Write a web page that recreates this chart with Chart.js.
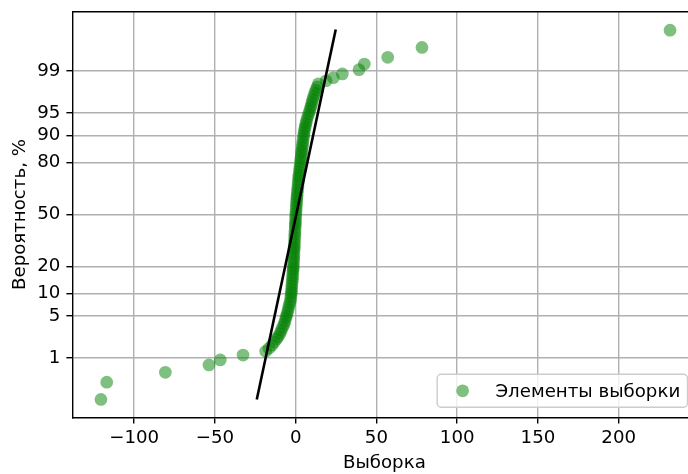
<!DOCTYPE html>
<html>
<head>
<meta charset="utf-8">
<script src="https://cdn.jsdelivr.net/npm/chart.js@4/dist/chart.umd.min.js"></script>
<style>
  html, body { margin: 0; padding: 0; background: #fff; overflow: hidden; width: 688px; height: 474px; }
  #wrap { width: 720px; height: 474px; }
</style>
</head>
<body>
<div id="wrap"><canvas id="probChart" width="720" height="474"></canvas></div>
<script>
// ordered sample values and their theoretical normal quantiles
const sample = [
  -120.6, -117.0, -80.7, -53.7, -46.7, -32.6, -18.6,
  -16.5, -14.7, -13.2, -11.8, -10.8, -9.7, -8.9, -8.1, -7.2, -6.6,
  -6.1, -5.6, -5.1, -4.6, -4.2, -3.7, -3.2, -3.0, -2.8, -2.6,
  -2.5, -2.4, -2.2, -2.0, -1.9, -1.8, -1.6, -1.5, -1.4, -1.3,
  -1.2, -1.1, -1.05, -0.93, -0.87, -0.74, -0.68, -0.62, -0.5, -0.43,
  -0.31, -0.25, -0.12, -0.06, 0.0, 0.12, 0.25, 0.37, 0.5, 0.62,
  0.74, 0.87, 1.05, 1.24, 1.42, 1.55, 1.73, 1.92, 2.11, 2.35,
  2.54, 2.79, 3.03, 3.22, 3.47, 3.65, 3.84, 4.09, 4.27, 4.52,
  4.77, 5.02, 5.26, 5.57, 6.01, 6.38, 6.81, 7.43, 8.05, 8.67,
  9.16, 9.66, 10.09, 10.59, 11.21, 11.83, 12.57, 13.31, 14.06,
  18.8, 23.3, 28.9, 39.2, 42.5, 57.0, 78.2, 231.8
];
const quantiles = [
  -3.00, -2.72, -2.56, -2.44, -2.36, -2.28, -2.22,
  -2.17, -2.12, -2.07, -2.02, -1.98, -1.93, -1.88, -1.83, -1.78, -1.73,
  -1.68, -1.64, -1.59, -1.54, -1.49, -1.44, -1.39, -1.34, -1.29, -1.25,
  -1.20, -1.15, -1.10, -1.05, -1.00, -0.95, -0.90, -0.86, -0.81, -0.76,
  -0.71, -0.66, -0.61, -0.56, -0.52, -0.47, -0.42, -0.37, -0.32, -0.27,
  -0.22, -0.17, -0.13, -0.08, -0.03, 0.02, 0.07, 0.12, 0.17, 0.22,
  0.27, 0.31, 0.36, 0.41, 0.46, 0.51, 0.56, 0.61, 0.65, 0.70,
  0.75, 0.80, 0.85, 0.90, 0.95, 1.00, 1.04, 1.09, 1.14, 1.19,
  1.24, 1.29, 1.34, 1.39, 1.43, 1.48, 1.53, 1.58, 1.63, 1.68,
  1.73, 1.77, 1.82, 1.87, 1.92, 1.97, 2.02, 2.07, 2.12,
  2.17, 2.22, 2.28, 2.35, 2.44, 2.55, 2.71, 2.99
];
// fitted line end points
const fitX = [-24.1, 24.8];
const fitQ = [-3.0, 3.0];

const yTickPercents = [1, 5, 10, 20, 50, 80, 90, 95, 99];
const xTicks = [-100, -50, 0, 50, 100, 150, 200];
const seriesLabel = 'Элементы выборки';

// inverse of the normal CDF (Acklam)
function probit(p) {
  const a = [-39.69683028665376, 220.9460984245205, -275.9285104469687, 138.3577518672690, -30.66479806614716, 2.506628277459239];
  const b = [-54.47609879822406, 161.5858368580409, -155.6989798598866, 66.80131188771972, -13.28068155288572];
  const c = [-0.007784894002430293, -0.3223964580411365, -2.400758277161838, -2.549732539343734, 4.374664141464968, 2.938163982698783];
  const d = [0.007784695709041462, 0.3224671290700398, 2.445134137142996, 3.754408661907416];
  const pl = 0.02425;
  let q, r;
  if (p < pl) {
    q = Math.sqrt(-2 * Math.log(p));
    return (((((c[0]*q+c[1])*q+c[2])*q+c[3])*q+c[4])*q+c[5]) / ((((d[0]*q+d[1])*q+d[2])*q+d[3])*q+1);
  }
  if (p > 1 - pl) {
    q = Math.sqrt(-2 * Math.log(1 - p));
    return -(((((c[0]*q+c[1])*q+c[2])*q+c[3])*q+c[4])*q+c[5]) / ((((d[0]*q+d[1])*q+d[2])*q+d[3])*q+1);
  }
  q = p - 0.5; r = q * q;
  return (((((a[0]*r+a[1])*r+a[2])*r+a[3])*r+a[4])*r+a[5])*q / (((((b[0]*r+b[1])*r+b[2])*r+b[3])*r+b[4])*r+1);
}

const FONT = 18.2;
const GREEN = 'rgba(0,128,0,0.5)';
const MARKER_R = 6.35;

Chart.defaults.font.family = '"DejaVu Sans", sans-serif';
Chart.defaults.font.size = FONT;
Chart.defaults.color = '#000';

// top and right spines
const framePlugin = {
  id: 'frame',
  afterDatasetsDraw(chart) {
    const { ctx, chartArea: a } = chart;
    ctx.save();
    ctx.strokeStyle = '#000';
    ctx.lineWidth = 1.4;
    ctx.beginPath();
    ctx.moveTo(a.left, a.top);
    ctx.lineTo(a.right, a.top);
    ctx.lineTo(a.right, a.bottom);
    ctx.stroke();
    ctx.restore();
  }
};

// matplotlib-like legend in the lower right corner
const legendPlugin = {
  id: 'sampleLegend',
  afterDraw(chart) {
    const { ctx, chartArea: a } = chart;
    ctx.save();
    ctx.font = FONT + 'px "DejaVu Sans", sans-serif';
    const textW = ctx.measureText(seriesLabel).width;
    const em = FONT;
    const w = 0.4 * em + 2 * em + 0.8 * em + textW + 0.4 * em;
    const h = 33;
    const right = a.right - 8.7;
    const bottom = a.bottom - 10;
    const left = right - w, top = bottom - h;
    ctx.beginPath();
    ctx.roundRect(left, top, w, h, 4);
    ctx.fillStyle = 'rgba(255,255,255,0.8)';
    ctx.fill();
    ctx.strokeStyle = '#cccccc';
    ctx.lineWidth = 1.4;
    ctx.stroke();
    const cy = top + h / 2;
    ctx.beginPath();
    ctx.arc(left + 0.4 * em + em, cy, MARKER_R, 0, Math.PI * 2);
    ctx.fillStyle = GREEN;
    ctx.fill();
    ctx.fillStyle = '#000';
    ctx.textBaseline = 'middle';
    ctx.fillText(seriesLabel, left + 0.4 * em + 2.8 * em, cy + 1);
    ctx.restore();
  }
};

const ctx = document.getElementById('probChart');
new Chart(ctx, {
  type: 'scatter',
  data: {
    datasets: [
      {
        label: 'fit',
        data: fitX.map((x, i) => ({ x, y: fitQ[i] })),
        showLine: true,
        borderColor: '#000',
        borderWidth: 2.6,
        pointRadius: 0,
        fill: false,
        order: 0
      },
      {
        label: seriesLabel,
        data: sample.map((x, i) => ({ x, y: quantiles[i] })),
        backgroundColor: GREEN,
        borderWidth: 0,
        pointRadius: MARKER_R,
        order: 1
      }
    ]
  },
  options: {
    responsive: false,
    animation: false,
    layout: { padding: { top: 11.7, right: 23.8, left: 0, bottom: 0 } },
    plugins: { legend: { display: false }, tooltip: { enabled: false } },
    scales: {
      x: {
        type: 'linear',
        min: -138.2,
        max: 248,
        afterBuildTicks: s => { s.ticks = xTicks.map(v => ({ value: v })); },
        afterFit: s => { s.height = 56.7; s.paddingLeft = 0; s.paddingRight = 0; },
        ticks: {
          padding: 4, autoSkip: false, maxRotation: 0,
          callback: v => (v < 0 ? '\u2212' + Math.abs(v) : String(v))
        },
        grid: { color: '#b0b0b0', lineWidth: 1.4, tickColor: '#000', tickLength: 6.1, tickWidth: 1.4 },
        border: { color: '#000', width: 1.4 },
        title: { display: true, text: 'Выборка', padding: { top: 0, bottom: 0 } }
      },
      y: {
        type: 'linear',
        min: -3.29,
        max: 3.29,
        afterBuildTicks: s => { s.ticks = yTickPercents.map(p => ({ value: probit(p / 100) })); },
        afterFit: s => { s.width = 72.5; s.paddingTop = 0; s.paddingBottom = 0; },
        ticks: {
          padding: 6.1, autoSkip: false,
          callback: (v, i) => String(yTickPercents[i])
        },
        grid: { color: '#b0b0b0', lineWidth: 1.4, tickColor: '#000', tickLength: 6.1, tickWidth: 1.4 },
        border: { color: '#000', width: 1.4 },
        title: { display: true, text: 'Вероятность, %', padding: { top: 9, bottom: 9 } }
      }
    }
  },
  plugins: [framePlugin, legendPlugin]
});
</script>
</body>
</html>
